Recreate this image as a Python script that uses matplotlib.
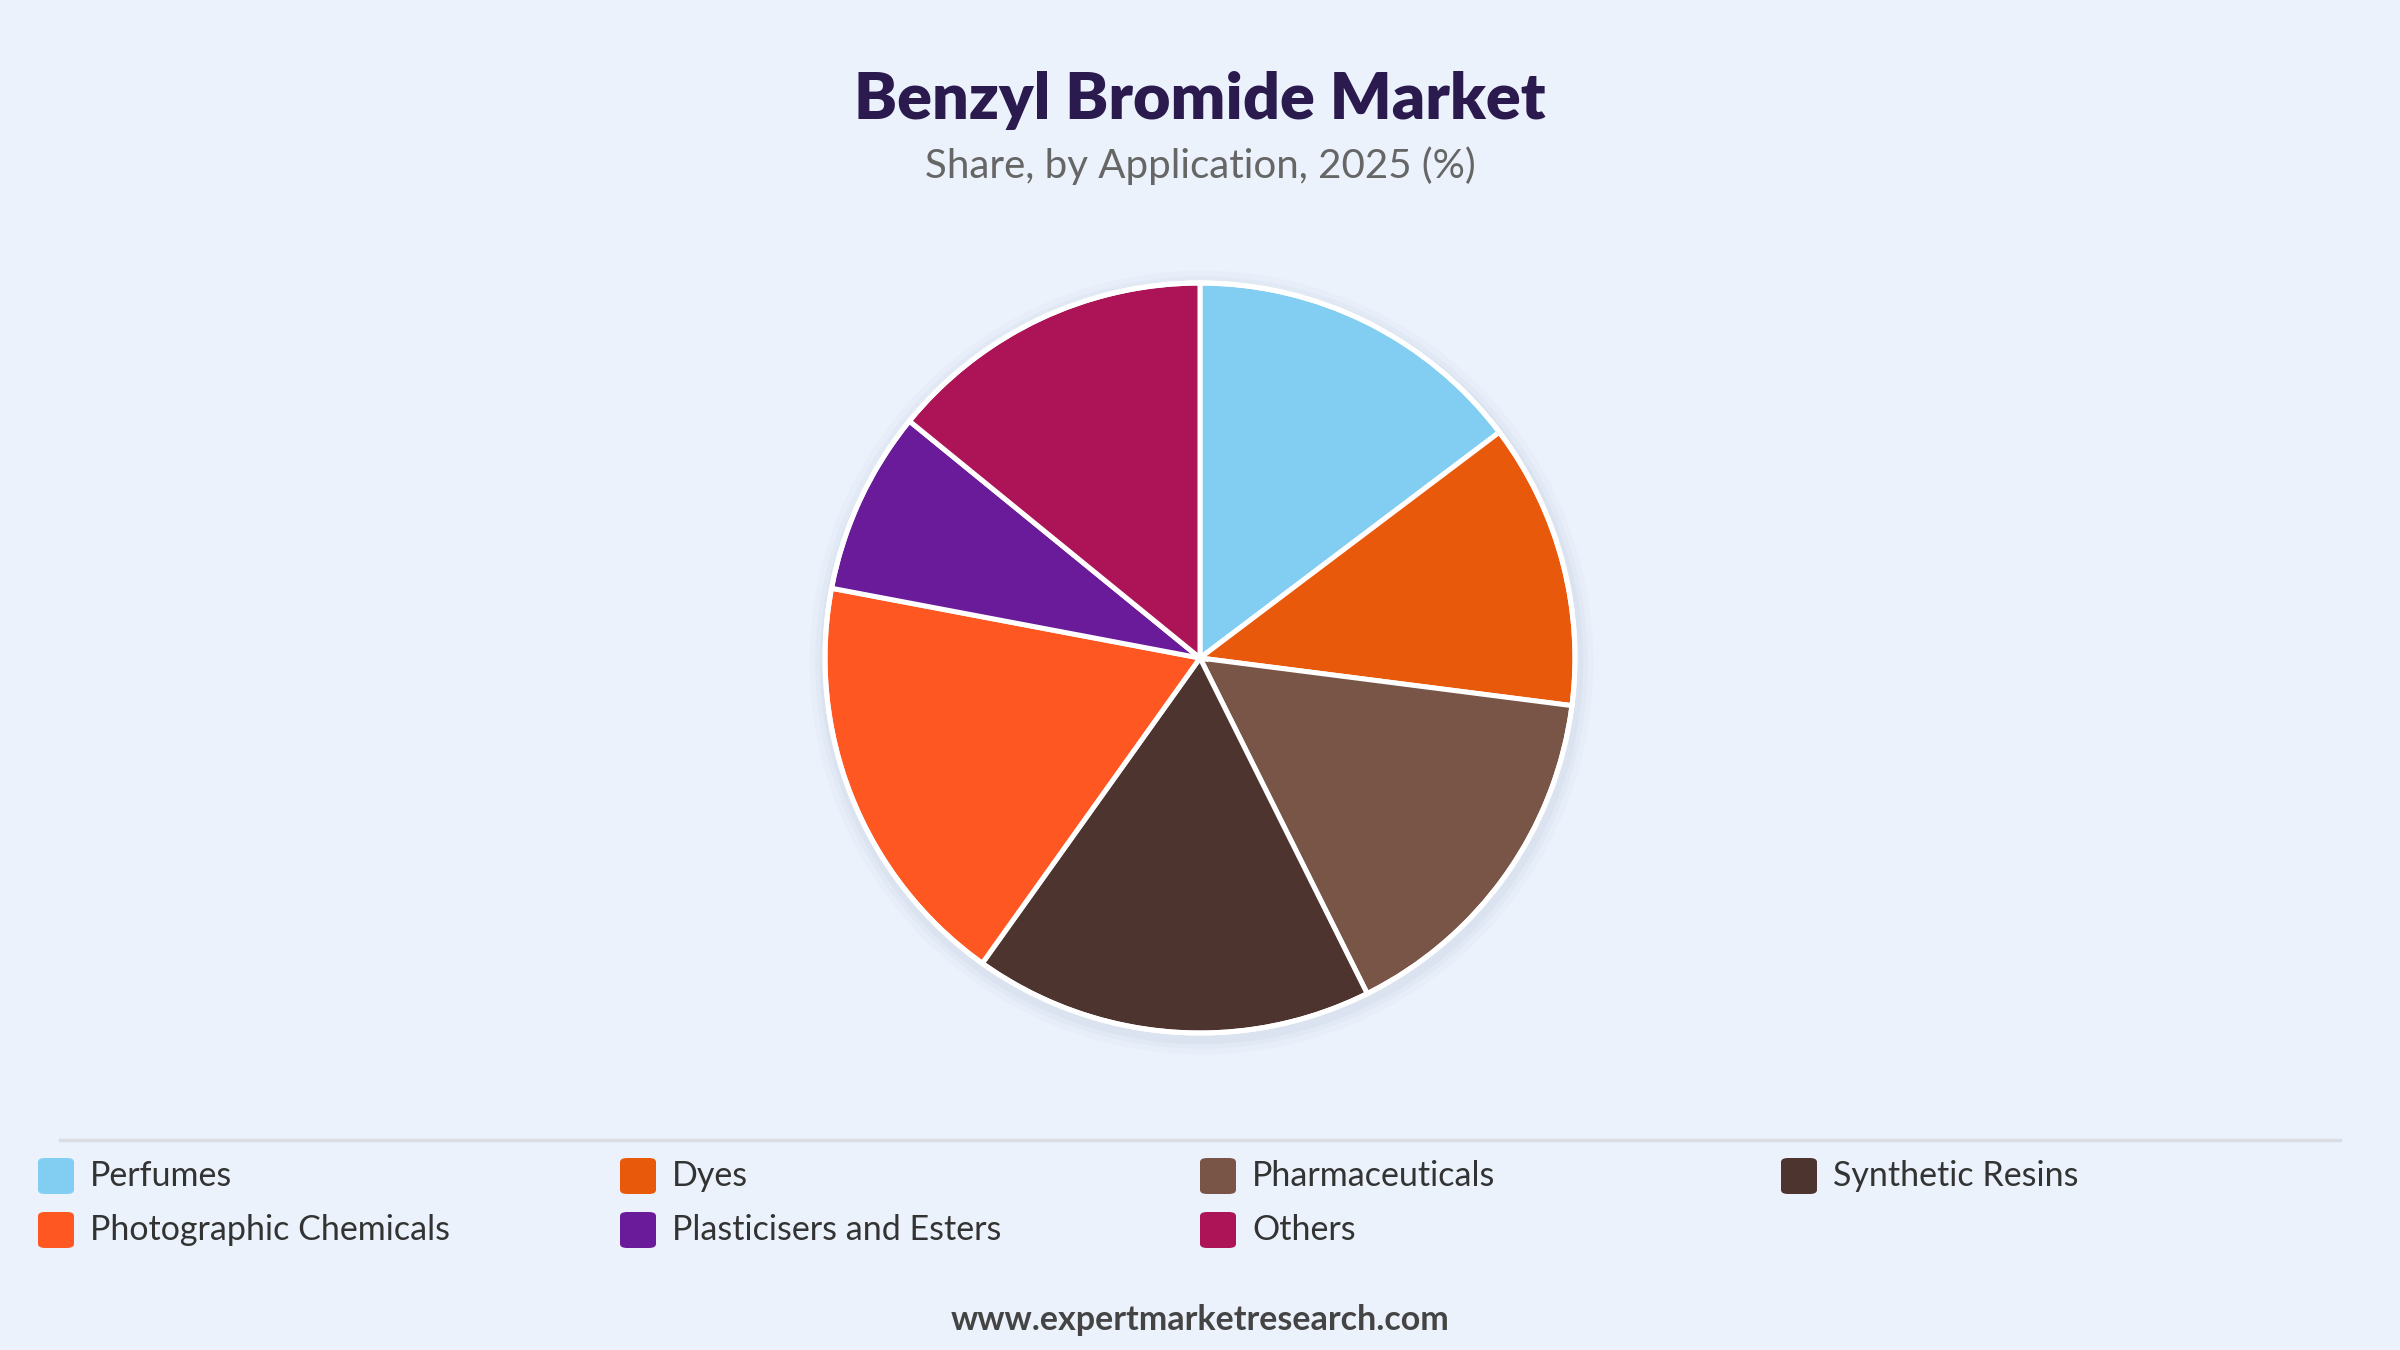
import matplotlib
matplotlib.use("Agg")
import matplotlib.pyplot as plt
from matplotlib.patches import FancyBboxPatch, Circle
from matplotlib.lines import Line2D

categories = ["Perfumes", "Dyes", "Pharmaceuticals", "Synthetic Resins",
              "Photographic Chemicals", "Plasticisers and Esters", "Others"]
values = [14.7, 12.3, 15.6, 17.2, 18.1, 7.9, 14.1]
colors = ["#81CEF2", "#E8590C", "#795548", "#4E342E", "#FF5722", "#6A1B9A", "#AD1457"]

title = "Benzyl Bromide Market"
subtitle = "Share, by Application, 2025 (%)"
footer = "www.expertmarketresearch.com"

BG = "#EBF2FC"
W, H = 2400, 1350
fig = plt.figure(figsize=(24, 13.5), dpi=100, facecolor=BG)

def fx(px):
    return px / W

def fy(py):
    return 1 - py / H

# Titles
fig.text(0.5, fy(100), title, ha="center", va="center", fontsize=46.5,
         fontweight="heavy", family=["Lato", "DejaVu Sans"], color="#2A1A4E")
fig.text(0.5, fy(166), subtitle, ha="center", va="center", fontsize=29,
         family=["Lato", "DejaVu Sans"], color="#666666")

# Pie
cx, cy, r = 1200, 658, 375
scale = 1.06
ax = fig.add_axes([fx(cx - r * scale), fy(cy + r * scale), fx(2 * r * scale), 2 * r * scale / H])
ax.set_facecolor("none")
# soft shadow
for rr, a in [(1.045, 0.05), (1.03, 0.07), (1.018, 0.09)]:
    ax.add_patch(Circle((0.004, -0.012), rr, color="#9fb0c4", alpha=a, lw=0, zorder=0))
wedges, _ = ax.pie(values, colors=colors, startangle=90, counterclock=False,
                   radius=1.0,
                   wedgeprops=dict(edgecolor="white", linewidth=3.6, joinstyle="miter"))
for w in wedges:
    w.set_zorder(2)
ax.add_patch(Circle((0, 0), 1.0, fill=False, ec="white", lw=3.6, zorder=3))
ax.set_xlim(-scale, scale)
ax.set_ylim(-scale, scale)
ax.set_aspect("equal")
ax.axis("off")

# Separator line
fig.add_artist(Line2D([fx(60), fx(2340)], [fy(1140), fy(1140)], color="#D9DDE3", lw=2.5))

# Legend
col_x = [38, 620, 1200, 1781]
row_y = [1176, 1230]
sq = 36
for i, (cat, col) in enumerate(zip(categories, colors)):
    cxp = col_x[i % 4]
    cyp = row_y[i // 4]
    box = FancyBboxPatch((fx(cxp), fy(cyp + sq / 2)), fx(sq), sq / H,
                         boxstyle="round,pad=0,rounding_size=0.003",
                         transform=fig.transFigure, fc=col, ec="none")
    fig.add_artist(box)
    fig.text(fx(cxp + 52), fy(cyp), cat, ha="left", va="center", fontsize=24.5,
             family=["Lato", "DejaVu Sans"], color="#333333")

# Footer
fig.text(0.5, fy(1320), footer, ha="center", va="center", fontsize=24.5,
         fontweight="bold", family=["Lato", "DejaVu Sans"], color="#444444")

fig.savefig("out.png", dpi=100, facecolor=BG)
